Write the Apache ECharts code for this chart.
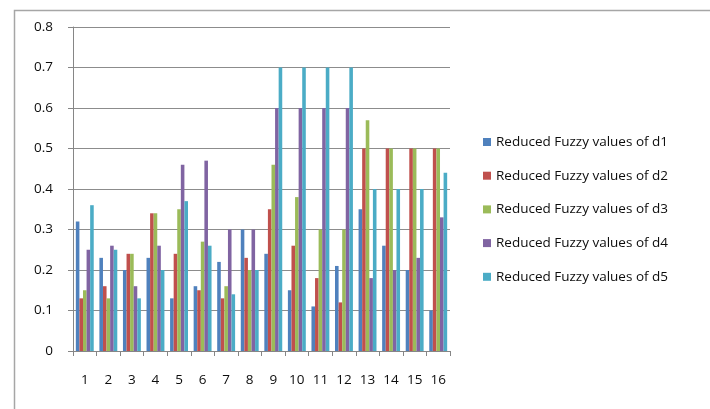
<!DOCTYPE html>
<html>
<head>
<meta charset="utf-8">
<script src="https://cdn.jsdelivr.net/npm/echarts@6/dist/echarts.min.js"></script>
<style>
  html, body { margin: 0; padding: 0; background: #fff; }
  #chart { width: 710px; height: 409px; }
</style>
</head>
<body>
<div id="chart"></div>
<script>
// Categories along the x axis
const categories = ['1','2','3','4','5','6','7','8','9','10','11','12','13','14','15','16'];

// Reduced fuzzy values per decision d1..d5
const d1 = [0.32, 0.23, 0.20, 0.23, 0.13, 0.16, 0.22, 0.30, 0.24, 0.15, 0.11, 0.21, 0.35, 0.26, 0.20, 0.10];
const d2 = [0.13, 0.16, 0.24, 0.34, 0.24, 0.15, 0.13, 0.23, 0.35, 0.26, 0.18, 0.12, 0.50, 0.50, 0.50, 0.50];
const d3 = [0.15, 0.13, 0.24, 0.34, 0.35, 0.27, 0.16, 0.20, 0.46, 0.38, 0.30, 0.30, 0.57, 0.50, 0.50, 0.50];
const d4 = [0.25, 0.26, 0.16, 0.26, 0.46, 0.47, 0.30, 0.30, 0.60, 0.60, 0.60, 0.60, 0.18, 0.20, 0.23, 0.33];
const d5 = [0.36, 0.25, 0.13, 0.20, 0.37, 0.26, 0.14, 0.20, 0.70, 0.70, 0.70, 0.70, 0.40, 0.40, 0.40, 0.44];

const seriesNames = [
  'Reduced Fuzzy values of d1',
  'Reduced Fuzzy values of d2',
  'Reduced Fuzzy values of d3',
  'Reduced Fuzzy values of d4',
  'Reduced Fuzzy values of d5'
];
const seriesData = [d1, d2, d3, d4, d5];
const colors = ['#4F81BD', '#C0504D', '#9BBB59', '#8064A2', '#4BACC6'];

const fontFamily = '"Open Sans", "Liberation Sans", sans-serif';
const textColor = '#0d0d0d';

const chart = echarts.init(document.getElementById('chart'), null, { renderer: 'canvas' });

chart.setOption({
  animation: false,
  color: colors,
  graphic: [{
    type: 'rect',
    left: 12, top: 8,
    shape: { width: 720, height: 420 },
    style: { fill: 'none', stroke: '#a6a6a6', lineWidth: 1.5 },
    silent: true,
    z: -1
  }],
  grid: { left: 73, right: 260, top: 27, bottom: 58 },
  legend: {
    orient: 'vertical',
    left: 478,
    top: 130,
    itemWidth: 8,
    itemHeight: 8,
    itemGap: 19.7,
    icon: 'rect',
    textStyle: { fontFamily: fontFamily, fontSize: 13.5, color: textColor, lineHeight: 14 },
    data: seriesNames
  },
  xAxis: {
    type: 'category',
    data: categories,
    axisLine: { lineStyle: { color: '#868686', width: 1 } },
    axisTick: { show: true, length: 5, alignWithLabel: false, lineStyle: { color: '#868686' } },
    axisLabel: { fontFamily: fontFamily, fontSize: 13.5, color: textColor, margin: 22 }
  },
  yAxis: {
    type: 'value',
    min: 0,
    max: 0.8,
    interval: 0.1,
    axisLine: { show: true, lineStyle: { color: '#868686', width: 1 } },
    axisTick: { show: true, length: 5, lineStyle: { color: '#868686' } },
    axisLabel: {
      fontFamily: fontFamily, fontSize: 13.5, color: textColor, margin: 20,
      formatter: v => (Math.round(v * 10) / 10).toString()
    },
    splitLine: { show: true, lineStyle: { color: '#8c8c8c', width: 1 } }
  },
  series: seriesData.map((data, i) => ({
    name: seriesNames[i],
    type: 'bar',
    data: data,
    barGap: '0%',
    barCategoryGap: '24%',
    itemStyle: { color: colors[i] }
  }))
});
</script>
</body>
</html>
